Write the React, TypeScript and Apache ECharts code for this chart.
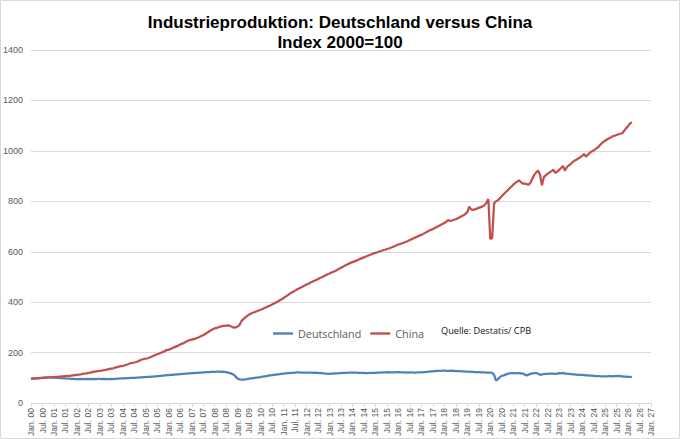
import React, { useEffect, useRef } from "react";
import * as echarts from "echarts";

// Month abbreviations (German) and years shown on the category axis
const MONTHS = ["Jan.", "Feb.", "Mär.", "Apr.", "Mai", "Jun.", "Jul.", "Aug.", "Sep.", "Okt.", "Nov.", "Dez."];
const YEARS = ["00","01","02","03","04","05","06","07","08","09","10","11","12","13","14","15","16","17","18","19","20","21","22","23","24","25","26","27"];

// Categories: Jan. 00 ... Jan. 27 (monthly)
const CATEGORIES: string[] = [];
YEARS.forEach((y, yi) => {
  MONTHS.forEach((m, mi) => {
    if (yi < YEARS.length - 1 || mi === 0) CATEGORIES.push(`${m} ${y}`);
  });
});

// Industrieproduktion Deutschland, Index 2000=100 (monthly, Jan 2000 - Mar 2026)
const DEUTSCHLAND: number[] = [
  96, 97, 97, 98, 99, 99, 100, 101, 101, 102, 102, 101, // 2000
  101, 100, 100, 99, 99, 98, 98, 97, 97, 96, 96, 95, // 2001
  95, 95, 96, 95, 95, 96, 95, 96, 95, 96, 95, 96, // 2002
  96, 95, 96, 95, 95, 95, 96, 95, 96, 97, 97, 98, // 2003
  98, 98, 99, 99, 100, 100, 100, 101, 101, 102, 102, 103, // 2004
  103, 104, 104, 105, 105, 106, 107, 107, 108, 109, 110, 111, // 2005
  111, 112, 112, 113, 114, 114, 115, 116, 116, 117, 118, 118, // 2006
  119, 119, 120, 120, 121, 121, 122, 122, 123, 123, 124, 124, // 2007
  124, 125, 125, 124, 125, 124, 123, 121, 119, 116, 112, 105, // 2008
  97, 94, 93, 93, 94, 95, 97, 98, 99, 100, 101, 102, // 2009
  103, 105, 106, 107, 109, 110, 111, 112, 113, 114, 115, 116, // 2010
  117, 118, 119, 119, 120, 120, 121, 122, 122, 121, 121, 121, // 2011
  121, 121, 121, 120, 121, 120, 120, 119, 119, 118, 117, 116, // 2012
  116, 117, 117, 118, 118, 119, 119, 120, 120, 120, 121, 121, // 2013
  121, 121, 121, 120, 120, 120, 120, 119, 119, 120, 120, 120, // 2014
  120, 121, 121, 121, 122, 122, 122, 123, 122, 122, 122, 123, // 2015
  123, 122, 122, 122, 122, 121, 122, 122, 121, 121, 122, 122, // 2016
  122, 123, 123, 124, 125, 126, 126, 127, 128, 128, 128, 129, // 2017
  129, 128, 128, 128, 129, 128, 127, 127, 127, 126, 126, 125, // 2018
  125, 125, 124, 124, 123, 123, 123, 122, 122, 122, 121, 121, // 2019
  121, 120, 112, 89, 95, 103, 108, 110, 113, 116, 118, 119, // 2020
  119, 118, 119, 119, 118, 117, 113, 110, 113, 116, 118, 119, // 2021
  119, 117, 112, 114, 115, 116, 116, 117, 117, 117, 116, 117, // 2022
  119, 118, 120, 117, 117, 116, 115, 114, 114, 113, 112, 112, // 2023
  112, 111, 110, 110, 109, 109, 108, 107, 107, 107, 106, 106, // 2024
  106, 106, 107, 107, 106, 107, 107, 108, 107, 106, 105, 105, // 2025
  104, 104, 103, // 2026
];

// Industrieproduktion China, Index 2000=100 (monthly, Jan 2000 - Mar 2026)
const CHINA: number[] = [
  97, 98, 98, 99, 99, 100, 100, 101, 101, 102, 102, 103, // 2000
  103, 104, 104, 105, 106, 106, 107, 108, 108, 109, 110, 111, // 2001
  112, 113, 114, 116, 117, 118, 120, 121, 123, 125, 126, 127, // 2002
  128, 129, 131, 132, 134, 136, 137, 138, 141, 143, 145, 147, // 2003
  148, 150, 152, 155, 158, 160, 161, 163, 166, 170, 173, 175, // 2004
  176, 178, 181, 184, 188, 191, 194, 197, 200, 203, 207, 210, // 2005
  212, 215, 219, 222, 225, 228, 232, 236, 239, 243, 247, 250, // 2006
  252, 254, 256, 259, 262, 266, 269, 274, 279, 284, 289, 293, // 2007
  296, 298, 301, 303, 305, 306, 307, 308, 306, 303, 299, 300, // 2008
  304, 310, 326, 333, 340, 346, 351, 355, 358, 361, 364, 367, // 2009
  370, 373, 377, 380, 384, 387, 391, 395, 399, 403, 408, 412, // 2010
  417, 422, 427, 432, 438, 442, 446, 450, 454, 458, 462, 466, // 2011
  470, 473, 478, 481, 485, 488, 492, 496, 499, 503, 507, 511, // 2012
  514, 518, 521, 524, 528, 533, 537, 541, 545, 549, 553, 556, // 2013
  559, 562, 565, 568, 572, 575, 578, 581, 584, 587, 590, 593, // 2014
  596, 598, 601, 603, 606, 608, 611, 613, 616, 619, 622, 626, // 2015
  629, 631, 634, 637, 640, 643, 647, 650, 654, 657, 661, 664, // 2016
  667, 671, 675, 679, 683, 687, 690, 694, 698, 702, 706, 710, // 2017
  714, 719, 726, 722, 724, 727, 729, 733, 737, 741, 745, 750, // 2018
  757, 779, 768, 766, 768, 771, 774, 777, 780, 785, 795, 809, // 2019
  651, 655, 792, 800, 805, 812, 820, 828, 836, 843, 851, 858, // 2020
  866, 872, 878, 883, 876, 870, 871, 868, 866, 874, 890, 905, // 2021
  915, 922, 905, 864, 896, 903, 910, 915, 920, 925, 913, 918, // 2022
  925, 932, 940, 922, 935, 942, 948, 955, 961, 965, 970, 975, // 2023
  980, 988, 977, 985, 992, 998, 1002, 1007, 1013, 1020, 1028, 1035, // 2024
  1040, 1045, 1050, 1053, 1058, 1060, 1063, 1066, 1068, 1070, 1080, 1090, // 2025
  1099, 1108, 1114, // 2026
];

const TITLE = "Industrieproduktion: Deutschland versus China\nIndex 2000=100";
const SOURCE = "Quelle: Destatis/ CPB";

export default function App() {
  const ref = useRef<HTMLDivElement>(null);
  useEffect(() => {
    if (!ref.current) return;
    const chart = echarts.init(ref.current, undefined, { renderer: "svg" });
    const font = "'Liberation Sans', Arial, sans-serif";
    chart.setOption({
      animation: false,
      backgroundColor: "#ffffff",
      title: {
        text: TITLE,
        left: "center",
        top: 7,
        textStyle: { fontSize: 17, fontWeight: "bold", color: "#000", fontFamily: font, lineHeight: 20 },
      },
      legend: {
        left: 268,
        top: 323,
        itemWidth: 20,
        itemHeight: 12,
        itemGap: 9,
        icon: "path://M0,0 L21,0 L21,2.5 L0,2.5 Z",
        textStyle: { fontSize: 10.8, color: "#595959", fontFamily: "'Open Sans', sans-serif" },
        data: ["Deutschland", "China"],
      },
      graphic: [
        {
          type: "rect",
          shape: { x: 0.5, y: 0.5, width: 679, height: 438 },
          style: { fill: "none", stroke: "#d9d9d9", lineWidth: 1 },
          silent: true,
        },
        {
          type: "text",
          left: 441,
          top: 326,
          style: { text: SOURCE, fontSize: 9.2, fill: "#111", fontFamily: "'Open Sans', sans-serif" },
        },
      ],
      grid: { left: 30, right: 29, top: 50, bottom: 32, containLabel: false },
      xAxis: {
        type: "category",
        data: CATEGORIES,
        boundaryGap: false,
        axisLine: { lineStyle: { color: "#d9d9d9", width: 1 } },
        axisTick: { show: true, interval: 5, length: 4, lineStyle: { color: "#d9d9d9" } },
        axisLabel: {
          interval: 5,
          rotate: 90,
          fontSize: 8.5,
          color: "#595959",
          margin: 5,
          fontFamily: font,
        },
        splitLine: { show: false },
      },
      yAxis: {
        type: "value",
        min: 0,
        max: 1400,
        interval: 200,
        axisLine: { show: false },
        axisTick: { show: false },
        axisLabel: {
          fontSize: 9,
          color: "#595959",
          margin: 8,
          fontFamily: font,
          formatter: (v: number) => String(v),
        },
        splitLine: { lineStyle: { color: "#d9d9d9", width: 1 } },
      },
      series: [
        {
          name: "Deutschland",
          type: "line",
          data: DEUTSCHLAND,
          symbol: "none",
          lineStyle: { color: "#4F81BD", width: 2.25 },
          itemStyle: { color: "#4F81BD" },
        },
        {
          name: "China",
          type: "line",
          data: CHINA,
          symbol: "none",
          lineStyle: { color: "#C0504D", width: 2.25 },
          itemStyle: { color: "#C0504D" },
        },
      ],
    });
    return () => chart.dispose();
  }, []);
  return (
    <div
      ref={ref}
      style={{ position: "fixed", left: 0, top: 0, width: 680, height: 439 }}
    />
  );
}
